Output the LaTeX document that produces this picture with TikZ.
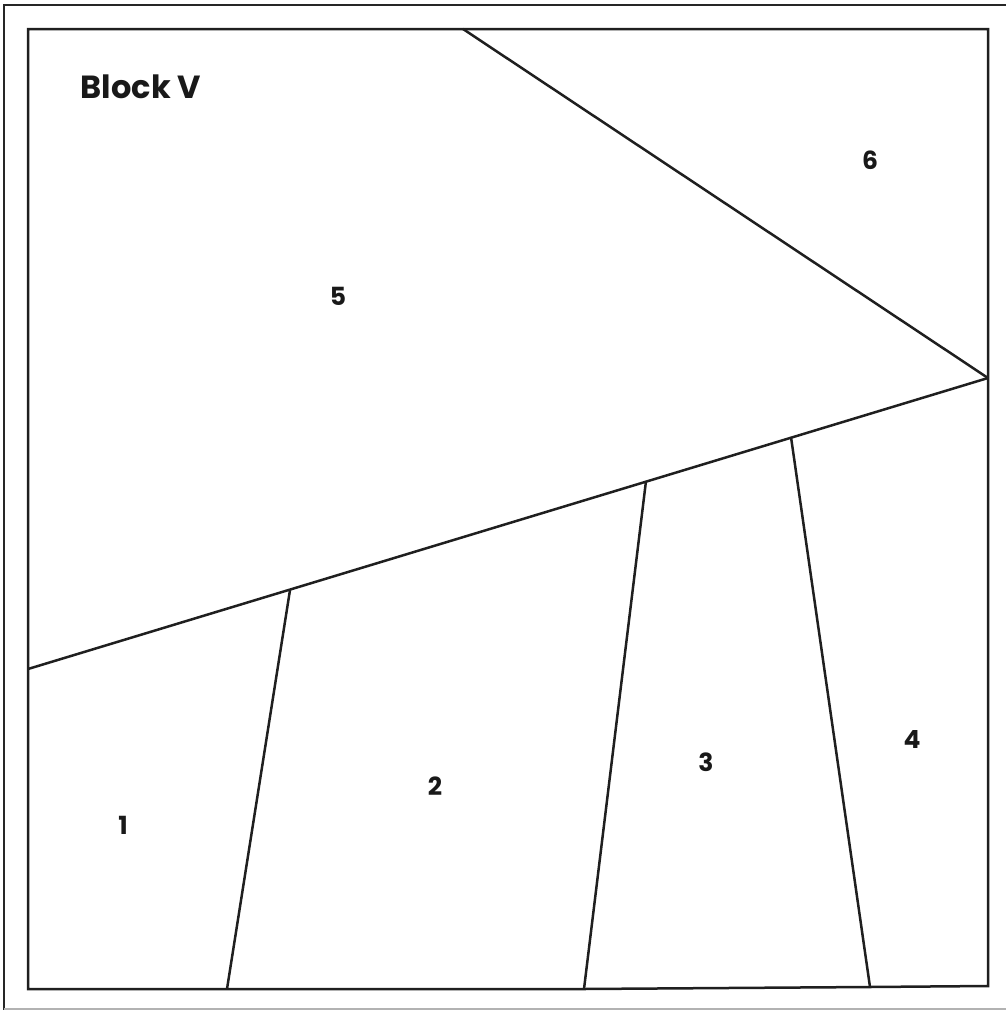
\documentclass[tikz,border=0pt]{standalone}
\usepackage{fontspec}
\setmainfont{Poppins}
\begin{document}
\begin{tikzpicture}[x=1pt,y=-1pt,
  edge/.style={line width=2.5pt,draw=black!88},
  frame/.style={line width=2pt,draw=black!85},
  lbl/.style={font=\fontsize{25}{27}\selectfont\bfseries,text=black!90,inner sep=0pt},
  title/.style={font=\fontsize{32}{34}\selectfont\bfseries,text=black!90,inner sep=0pt}]
\useasboundingbox (0,0) rectangle (1006,1010);
% outer frame
\draw[frame] (4,1012) -- (4,5) -- (1010,5);
\draw[line width=1.5pt,draw=black!30] (4,1009) -- (1010,1009);
% inner frame
\coordinate (tl) at (28,29);
\coordinate (tr) at (988,29);
\coordinate (br) at (988,986);
\coordinate (bl) at (28,989);
\coordinate (b1) at (227,989);
\coordinate (b2) at (584,989);
\coordinate (b3) at (870,987);
\coordinate (apex) at (988,378);
\coordinate (top) at (463,29);
\coordinate (left) at (28,669);
\coordinate (d1) at (290,590);
\coordinate (d2) at (646,481);
\coordinate (d3) at (791,437);
\draw[edge,line join=miter] (tl) -- (tr) -- (br) -- (b3) -- (b2) -- (b1) -- (bl) -- cycle;
\draw[edge] (top) -- (apex);
\draw[edge] (left) -- (apex);
\draw[edge] (d1) -- (b1);
\draw[edge] (d2) -- (b2);
\draw[edge] (d3) -- (b3);
% labels
\node[title] (ttl) at (141,87) {Block V};
\node[lbl] (n1) at (123,825) {1};
\node[lbl] (n2) at (435,786) {2};
\node[lbl] (n3) at (706,762) {3};
\node[lbl] (n4) at (912,739) {4};
\node[lbl] (n5) at (338,296) {5};
\node[lbl] (n6) at (870,160) {6};
\end{tikzpicture}
\end{document}
